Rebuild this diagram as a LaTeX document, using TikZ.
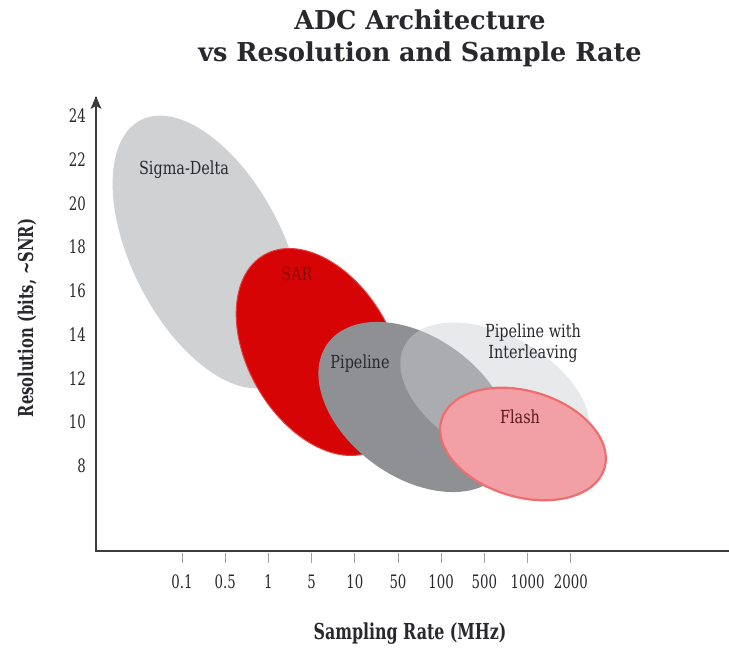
\documentclass[tikz,border=0pt]{standalone}
\usepackage{fontspec}
\usetikzlibrary{arrows.meta}
\newfontfamily\titlefont[FakeStretch=0.98]{DejaVu Serif}
\newfontfamily\axisfont[FakeStretch=0.72]{DejaVu Serif}
\newfontfamily\tickfont[FakeStretch=0.72]{DejaVu Serif}
\newfontfamily\labelfont[FakeStretch=0.8]{DejaVu Serif}

\definecolor{sigmagray}{RGB}{207,209,211}
\definecolor{sarred}{RGB}{214,4,4}
\definecolor{saredge}{RGB}{232,60,60}
\definecolor{pipegray}{RGB}{142,144,148}
\definecolor{interlgray}{RGB}{205,207,210}
\definecolor{flashpink}{RGB}{242,160,165}
\definecolor{flashedge}{RGB}{238,110,112}
\definecolor{axisgray}{RGB}{60,60,60}
\definecolor{tickgray}{RGB}{160,160,160}
\definecolor{textdark}{RGB}{40,40,45}

\tikzset{
  axisline/.style={draw=axisgray, line width=1.8pt},
  tickmark/.style={draw=tickgray, line width=0.8pt},
  ticklabel/.style={font=\tickfont\fontsize{18.5}{20}\selectfont, text=textdark, inner sep=0pt},
  regionlabel/.style={font=\labelfont\fontsize{18}{21}\selectfont, text=textdark, inner sep=0pt, align=center},
}

\begin{document}
\begin{tikzpicture}[x=1pt, y=1pt]
  \useasboundingbox[fill=white] (0,0) rectangle (729,648);

  % title
  \node[font=\titlefont\bfseries\fontsize{26}{32}\selectfont, text=textdark, align=center, inner sep=0pt]
    (title) at (420,610) {ADC Architecture\\vs Resolution and Sample Rate};

  % architecture regions
  \fill[sigmagray, rotate around={-63:(208,396)}] (208,396) ellipse [x radius=148, y radius=76];
  \filldraw[fill=sarred, draw=saredge, line width=1pt, rotate around={-60:(320,296)}]
    (320,296) ellipse [x radius=112, y radius=72];
  \fill[pipegray, rotate around={-36:(415,241)}] (415,241) ellipse [x radius=108, y radius=70];
  \fill[interlgray, fill opacity=0.45, rotate around={-29:(495,253)}] (495,253) ellipse [x radius=103, y radius=60];
  \filldraw[fill=flashpink, draw=flashedge, line width=2.2pt, rotate around={-16.5:(523,204)}]
    (523,204) ellipse [x radius=85, y radius=53];

  % region labels
  \node[regionlabel] (sigma) at (184,478) {Sigma-Delta};
  \node[regionlabel, text={rgb,255:red,130;green,10;blue,10}] (sar) at (297,374) {SAR};
  \node[regionlabel] (pipe) at (360,284) {Pipeline};
  \node[regionlabel] (interl) at (533,305) {Pipeline with\\Interleaving};
  \node[regionlabel, text={rgb,255:red,90;green,25;blue,30}] (flash) at (520,231) {Flash};

  % axes
  \coordinate (origin) at (96,97);
  \coordinate (ytop) at (96,551);
  \coordinate (xend) at (729,97);
  \draw[axisline] (xend) -- (origin) -- (ytop);
  \fill[axisgray] (ytop) ++(0,1) -- ++(-5.5,-13) -- ++(5.5,3) -- ++(5.5,-3) -- cycle;

  % y ticks
  \foreach \v [count=\i from 0] in {24,22,20,18,16,14,12,10,8} {
    \node[ticklabel, anchor=east] (ylab\i) at (86,532-43.75*\i) {\v};
  }

  % x ticks
  \foreach \v [count=\i from 0] in {0.1,0.5,1,5,10,50,100,500,1000,2000} {
    \draw[tickmark] (182+43.2*\i,95) -- (182+43.2*\i,85);
    \node[ticklabel] (xlab\i) at (182+43.2*\i,66) {\v};
  }

  % axis titles
  \node[font=\axisfont\bfseries\fontsize{22}{24}\selectfont, text=textdark, inner sep=0pt]
    (xtitle) at (410,14) {Sampling Rate (MHz)};
  \node[font=\axisfont\bfseries\fontsize{20.5}{22}\selectfont, text=textdark, inner sep=0pt, rotate=90]
    (ytitle) at (27,330) {Resolution (bits, \textasciitilde SNR)};
\end{tikzpicture}
\end{document}
